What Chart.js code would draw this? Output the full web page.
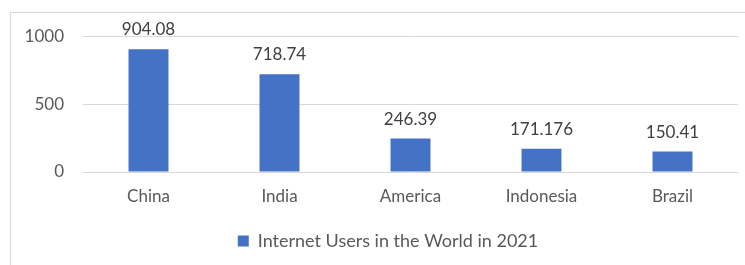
<!DOCTYPE html>
<html>
<head>
<meta charset="utf-8">
<script src="https://cdn.jsdelivr.net/npm/chart.js@4/dist/chart.umd.min.js"></script>
<style>
  html, body { margin: 0; padding: 0; background: #fff; overflow: hidden; }
  #frame {
    position: absolute; left: 10px; top: 12px; width: 756px; height: 253px;
    border-left: 1px solid #d9d9d9; border-top: 1px solid #d9d9d9;
    box-sizing: border-box;
  }
  #wrap { position: absolute; left: 10px; top: 12px; width: 756px; height: 253px; }
  canvas { display: block; }
</style>
</head>
<body>
<div id="frame"></div>
<div id="wrap"><canvas id="myChart" width="756" height="253"></canvas></div>
<script>
const countries = ['China', 'India', 'America', 'Indonesia', 'Brazil'];
const users = [904.08, 718.74, 246.39, 171.176, 150.41];
const userLabels = ['904.08', '718.74', '246.39', '171.176', '150.41'];
const yTicks = [0, 500, 1000];
const seriesName = 'Internet Users in the World in 2021';

const textColor = '#595959';
const fontFamily = 'Lato, "Open Sans", sans-serif';

// value labels above each bar
const barLabels = {
    id: 'barLabels',
    afterDatasetsDraw: function(chart){
        const ctx = chart.ctx;
        const meta = chart.getDatasetMeta(0);
        ctx.save();
        ctx.font = '17px ' + fontFamily;
        ctx.fillStyle = '#404040';
        ctx.textAlign = 'center';
        ctx.textBaseline = 'alphabetic';
        meta.data.forEach(function(bar, i){
            ctx.fillText(userLabels[i], bar.x, bar.y - 14);
        });
        ctx.restore();
    }
};

new Chart(document.getElementById('myChart').getContext('2d'), {
    type: 'bar',
    data: {
        labels: countries,
        datasets: [{
            label: seriesName,
            data: users,
            backgroundColor: '#4472C4',
            borderWidth: 0,
            categoryPercentage: 1,
            barPercentage: 0.305,
        }],
    },
    options: {
        responsive: false,
        animation: false,
        devicePixelRatio: 1,
        layout: { padding: { left: 0, right: 0, top: 0, bottom: 5 } },
        scales: {
            x: {
                grid: { display: false, drawTicks: false },
                border: { display: false },
                ticks: { color: textColor, font: { family: fontFamily, size: 17 }, padding: 14 },
                afterFit: function(scale){ scale.height = 52; },
            },
            y: {
                min: yTicks[0],
                max: yTicks[yTicks.length - 1],
                afterBuildTicks: function(scale){ scale.ticks = yTicks.map(v => ({ value: v })); },
                ticks: {
                    color: textColor,
                    // small lineHeight: the tick label half-height + padding sets the plot top
                    font: { family: fontFamily, size: 17, lineHeight: 0.6 },
                    padding: 19,
                    callback: function(v){ return String(v); },
                },
                grid: { color: '#d9d9d9', lineWidth: 1, drawTicks: false },
                border: { display: false },
                afterFit: function(scale){ scale.width = 73; },
            },
            // empty right axis, keeps the plot narrower so the legend centres like the original
            yRight: {
                position: 'right',
                grid: { display: false, drawTicks: false },
                border: { display: false },
                ticks: { display: false },
                afterFit: function(scale){ scale.width = 28; },
            },
        },
        plugins: {
            legend: {
                position: 'bottom',
                labels: {
                    color: textColor,
                    font: { family: fontFamily, size: 18 },
                    boxWidth: 11,
                    boxHeight: 11,
                    padding: 8,
                },
            },
            tooltip: { enabled: false },
        },
    },
    plugins: [barLabels],
});
</script>
</body>
</html>
